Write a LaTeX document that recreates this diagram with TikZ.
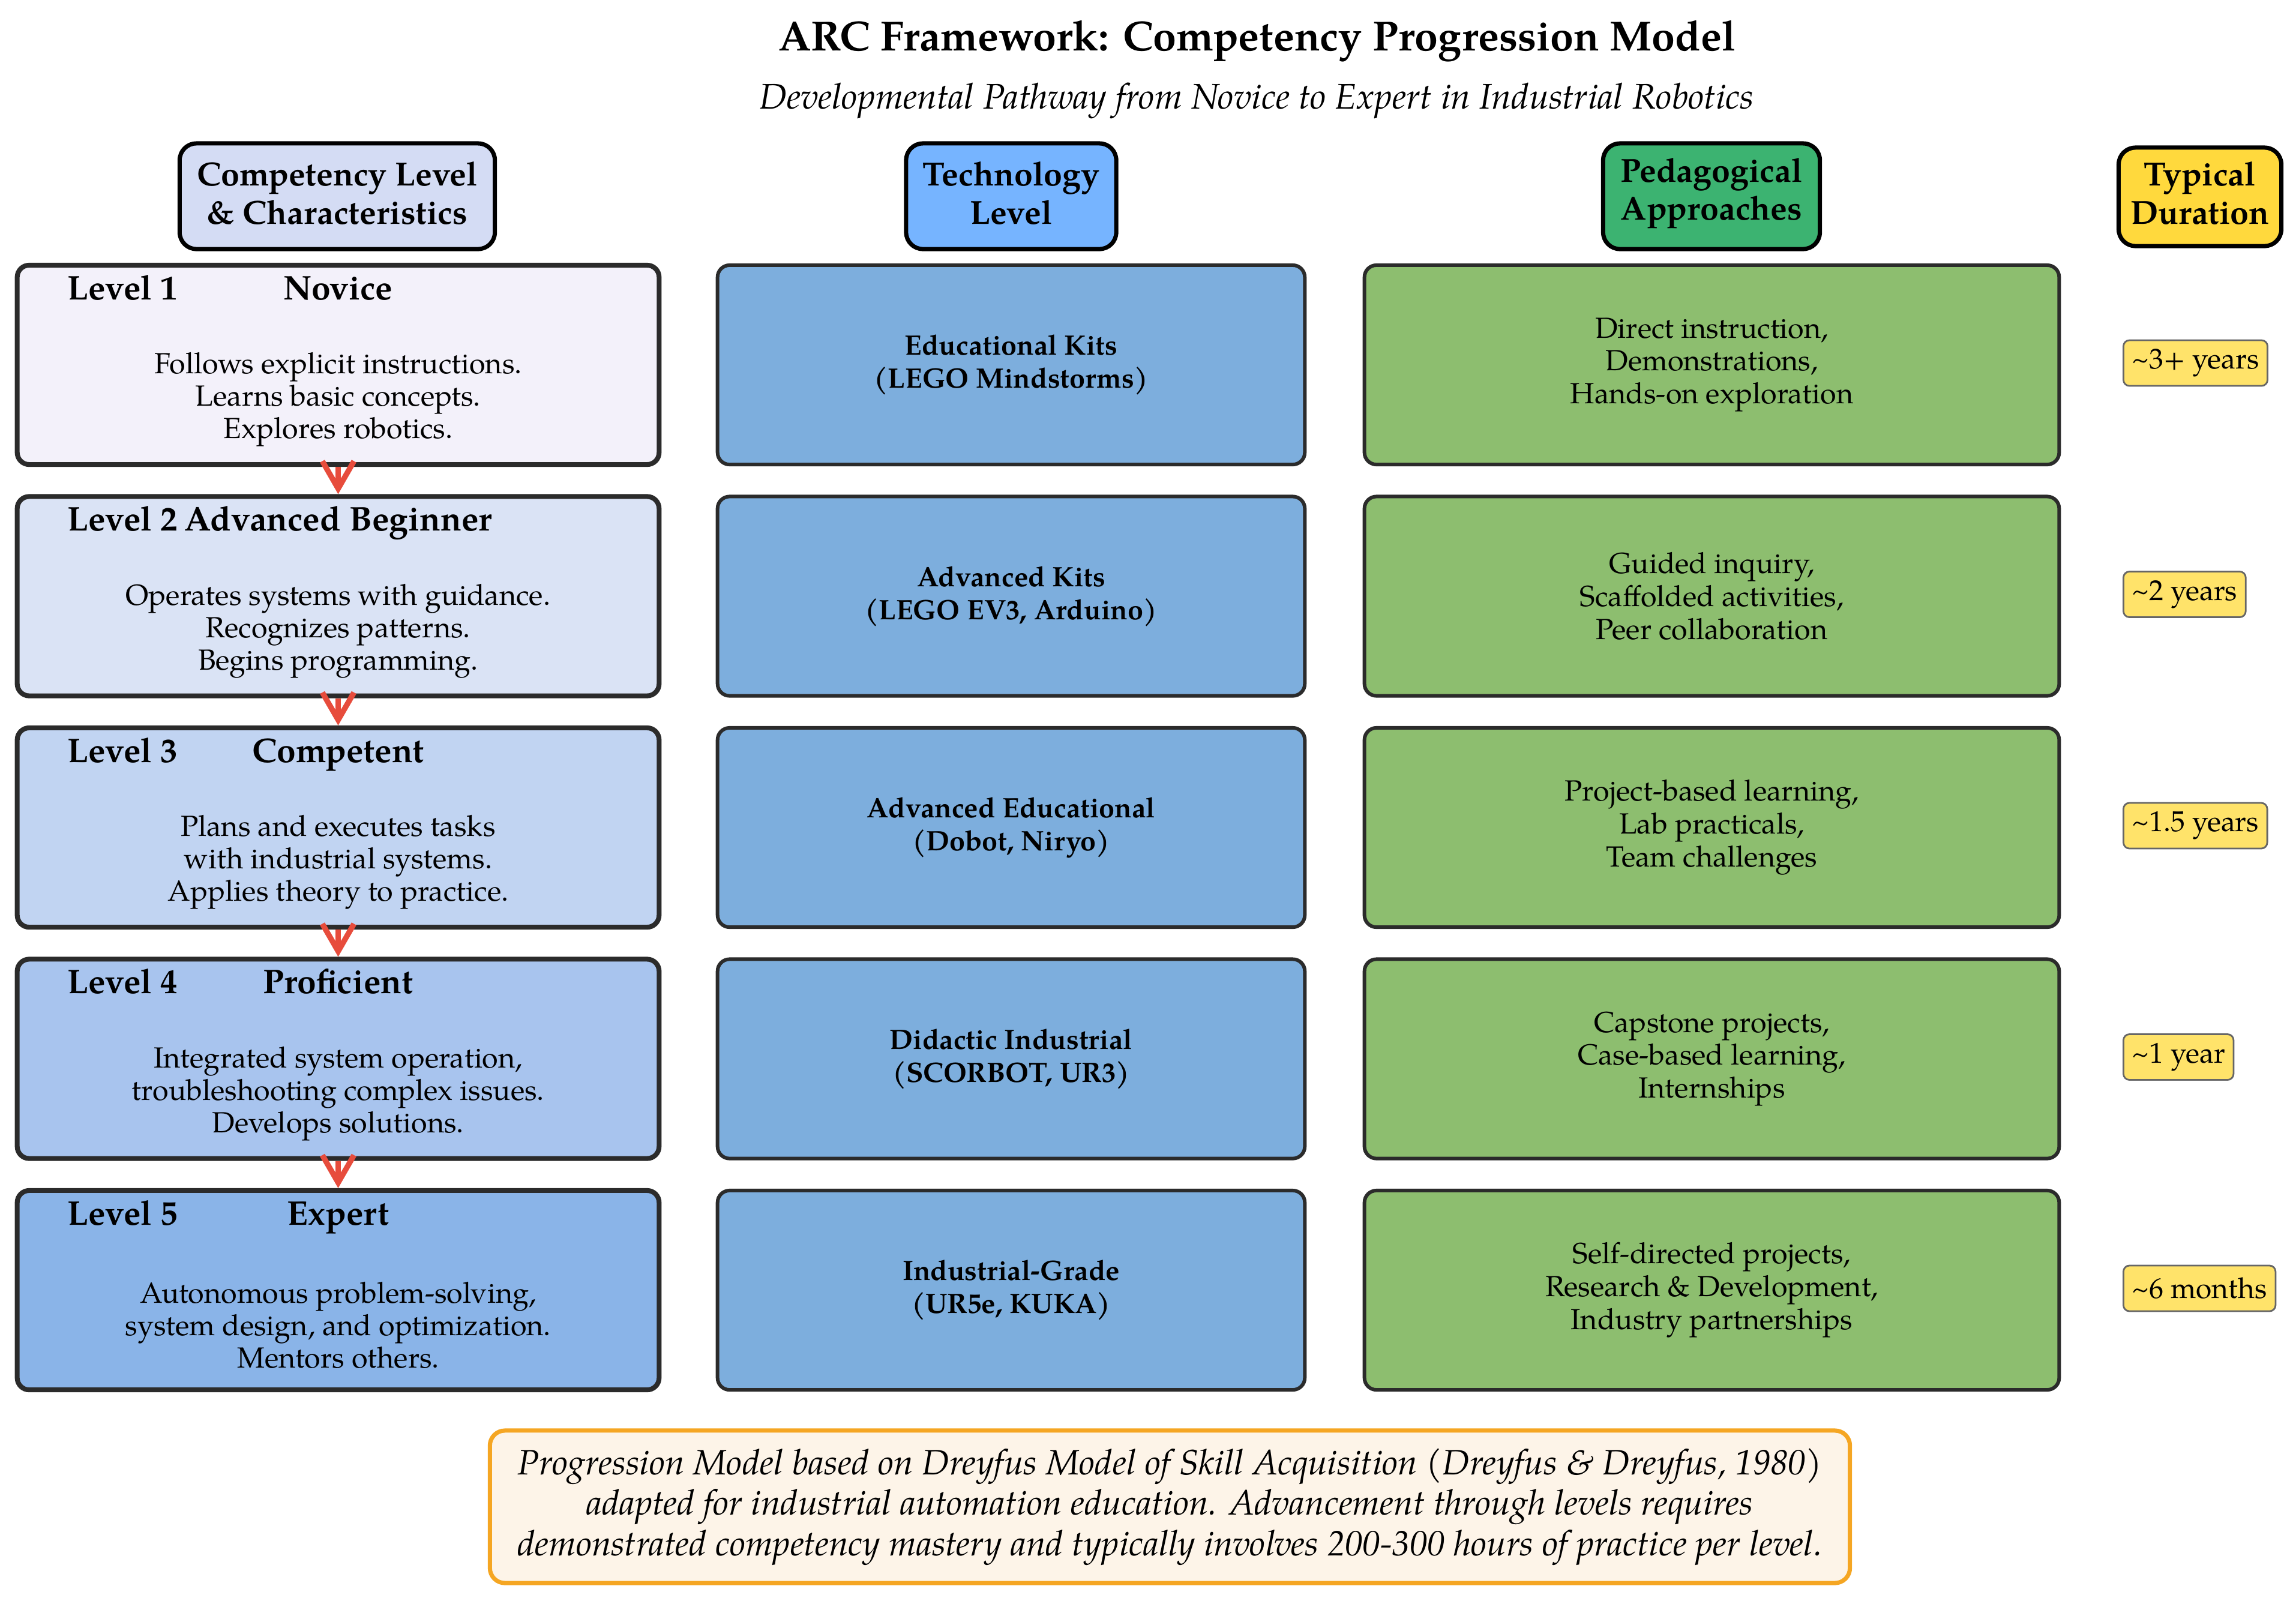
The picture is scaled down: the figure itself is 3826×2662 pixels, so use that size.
\documentclass[tikz,border=0pt]{standalone}
\usepackage{fontspec}
\setmainfont{TeX Gyre Pagella}
\usetikzlibrary{arrows.meta}
\definecolor{hdrA}{HTML}{D4DCF4}
\definecolor{hdrB}{HTML}{76B4FF}
\definecolor{hdrC}{HTML}{3CB371}
\definecolor{hdrD}{HTML}{FFD93D}
\definecolor{lvA}{HTML}{F3F1FA}
\definecolor{lvB}{HTML}{DAE3F5}
\definecolor{lvC}{HTML}{C1D4F2}
\definecolor{lvD}{HTML}{A8C4EE}
\definecolor{lvE}{HTML}{8AB4E8}
\definecolor{techc}{HTML}{7DAEDD}
\definecolor{pedc}{HTML}{8DBE6F}
\definecolor{durc}{HTML}{FFE36A}
\definecolor{footc}{HTML}{FDF4E8}
\definecolor{footb}{HTML}{F5A623}
\definecolor{arrc}{HTML}{E74C3C}
\definecolor{edgec}{HTML}{2B2B2B}
\tikzset{
  hdr/.style={draw=black, line width=2pt, rounded corners=0.28cm,
    minimum height=1.76cm, inner sep=0pt},
  hdrtext/.style={align=center, font=\fontsize{15.8}{18}\selectfont\bfseries, inner sep=0pt},
  lvbox/.style={draw=edgec, line width=2.3pt, rounded corners=0.2cm,
    minimum width=10.69cm, minimum height=3.32cm},
  techbox/.style={draw=edgec, line width=1.7pt, rounded corners=0.2cm, fill=techc,
    minimum width=9.78cm, minimum height=3.32cm, align=center,
    font=\fontsize{13.3}{15.6}\selectfont\bfseries},
  pedbox/.style={draw=edgec, line width=1.7pt, rounded corners=0.2cm, fill=pedc,
    minimum width=11.57cm, minimum height=3.32cm, align=center,
    font=\fontsize{13.8}{15.6}\selectfont},
  lvtitle/.style={font=\fontsize{16.2}{18}\selectfont\bfseries, inner sep=0pt},
  lvbody/.style={font=\fontsize{13.8}{15.4}\selectfont, align=center, inner sep=0pt},
  durbox/.style={draw=black!60, line width=0.8pt, fill=durc, rounded corners=0.1cm,
    font=\fontsize{13.6}{16}\selectfont, inner xsep=0.14cm, inner ysep=0pt,
    minimum height=0.76cm, anchor=west},
  arr/.style={draw=arrc, line width=2.6pt, -{Straight Barb[length=13pt,width=15pt]}},
}
\begin{document}
\begin{tikzpicture}[x=0.01cm,y=-0.01cm]
\useasboundingbox (0,0) rectangle (3826,2662);
\fill[white] (0,0) rectangle (3826,2662);

\node[font=\fontsize{19.9}{24}\selectfont\bfseries] (title) at (2095,69) {ARC Framework: Competency Progression Model};
\node[font=\fontsize{16.9}{20}\selectfont\itshape] (subtitle) at (2094,168) {Developmental Pathway from Novice to Expert in Industrial Robotics};

% headers
\node[hdr, fill=hdrA, minimum width=5.25cm] (hA) at (562,327) {};
\node[hdrtext] (hAt) at (562,322) {Competency Level\\\& Characteristics};
\node[hdr, fill=hdrB, minimum width=3.50cm] (hB) at (1685,327) {};
\node[hdrtext] (hBt) at (1685,322) {Technology\\Level};
\node[hdr, fill=hdrC, minimum width=3.61cm] (hC) at (2852,327) {};
\node[hdrtext] (hCt) at (2852,322) {Pedagogical\\Approaches};
\node[hdr, fill=hdrD, minimum width=2.71cm, minimum height=1.64cm] (hD) at (3666,328) {};
\node[hdrtext] (hDt) at (3666,322) {Typical\\Duration};

% level boxes
\node[lvbox, fill=lvA] (L1) at (563.5,608) {};
\node[lvbox, fill=lvB] (L2) at (563.5,993.5) {};
\node[lvbox, fill=lvC] (L3) at (563.5,1379) {};
\node[lvbox, fill=lvD] (L4) at (563.5,1764.5) {};
\node[lvbox, fill=lvE] (L5) at (563.5,2150) {};

\node[lvtitle, anchor=base west] (L1a) at (112,499) {Level 1};
\node[lvtitle, anchor=base] (L1n) at (563.5,499) {Novice};
\node[lvbody] (L1b) at (563.5,666) {Follows explicit instructions.\\Learns basic concepts.\\Explores robotics.};

\node[lvtitle, anchor=base west] (L2a) at (112,884.5) {Level 2};
\node[lvtitle, anchor=base] (L2n) at (563.5,884.5) {Advanced Beginner};
\node[lvbody] (L2b) at (563.5,1051.5) {Operates systems with guidance.\\Recognizes patterns.\\Begins programming.};

\node[lvtitle, anchor=base west] (L3a) at (112,1270) {Level 3};
\node[lvtitle, anchor=base] (L3n) at (563.5,1270) {Competent};
\node[lvbody] (L3b) at (563.5,1437) {Plans and executes tasks\\with industrial systems.\\Applies theory to practice.};

\node[lvtitle, anchor=base west] (L4a) at (112,1655.5) {Level 4};
\node[lvtitle, anchor=base] (L4n) at (563.5,1655.5) {Proficient};
\node[lvbody] (L4b) at (563.5,1822.5) {Integrated system operation,\\troubleshooting complex issues.\\Develops solutions.};

\node[lvtitle, anchor=base west] (L5a) at (112,2041) {Level 5};
\node[lvtitle, anchor=base] (L5n) at (563.5,2041) {Expert};
\node[lvbody] (L5b) at (563.5,2208) {Autonomous problem-solving,\\system design, and optimization.\\Mentors others.};

% arrows
\draw[arr] (L1.south) -- (L2.north);
\draw[arr] (L2.south) -- (L3.north);
\draw[arr] (L3.south) -- (L4.north);
\draw[arr] (L4.south) -- (L5.north);

% technology
\node[techbox] (T1) at (1685,608) {Educational Kits\\(LEGO Mindstorms)};
\node[techbox] (T2) at (1685,993.5) {Advanced Kits\\(LEGO EV3, Arduino)};
\node[techbox] (T3) at (1685,1379) {Advanced Educational\\(Dobot, Niryo)};
\node[techbox] (T4) at (1685,1764.5) {Didactic Industrial\\(SCORBOT, UR3)};
\node[techbox] (T5) at (1685,2150) {Industrial-Grade\\(UR5e, KUKA)};

% pedagogy
\node[pedbox] (P1) at (2852.5,608) {Direct instruction,\\Demonstrations,\\Hands-on exploration};
\node[pedbox] (P2) at (2852.5,993.5) {Guided inquiry,\\Scaffolded activities,\\Peer collaboration};
\node[pedbox] (P3) at (2852.5,1379) {Project-based learning,\\Lab practicals,\\Team challenges};
\node[pedbox] (P4) at (2852.5,1764.5) {Capstone projects,\\Case-based learning,\\Internships};
\node[pedbox] (P5) at (2852.5,2150) {Self-directed projects,\\Research \& Development,\\Industry partnerships};

% durations
\node[durbox] (D1) at (3537,605) {\textasciitilde 3+ years};
\node[durbox] (D2) at (3537,990.5) {\textasciitilde 2 years};
\node[durbox] (D3) at (3537,1376) {\textasciitilde 1.5 years};
\node[durbox] (D4) at (3537,1761.5) {\textasciitilde 1 year};
\node[durbox] (D5) at (3537,2147) {\textasciitilde 6 months};

% footer
\node[draw=footb, line width=2pt, fill=footc, rounded corners=0.25cm,
  minimum width=22.65cm, minimum height=2.54cm, align=center,
  font=\fontsize{16.7}{19.2}\selectfont\itshape] (foot) at (1949.5,2511)
  {Progression Model based on Dreyfus Model of Skill Acquisition (Dreyfus \& Dreyfus, 1980)\\adapted for industrial automation education. Advancement through levels requires\\demonstrated competency mastery and typically involves 200-300 hours of practice per level.};
\end{tikzpicture}
\end{document}
